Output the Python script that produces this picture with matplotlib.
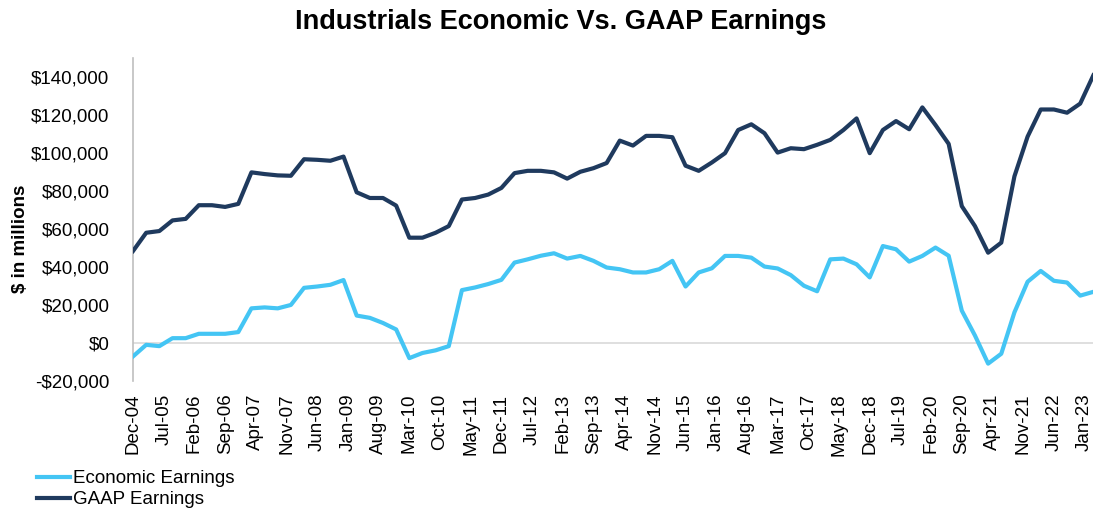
import matplotlib
matplotlib.use("Agg")
import matplotlib.pyplot as plt
import pandas as pd
from matplotlib.ticker import FuncFormatter

plt.rcParams['font.family'] = ['Liberation Sans', 'DejaVu Sans']

# Quarterly observation dates (Dec-04 .. Mar-23)
dates = pd.date_range('2004-12-31', '2023-03-31', freq='QE')

gaap = [48.5, 58.1, 59.0, 64.6, 65.4, 72.6, 72.6, 71.7, 73.3, 89.9,
        89.0, 88.3, 88.1, 96.8, 96.5, 96.0, 98.2, 79.4, 76.4, 76.4, 72.4,
        55.5, 55.5, 58.1, 61.6, 75.6, 76.4, 78.2, 81.7, 89.5, 90.7, 90.7,
        89.9, 86.6, 90.2, 92.1, 94.8, 106.6, 104.0, 109.1, 109.1, 108.4,
        93.4, 90.7, 95.1, 100.0, 112.2, 115.2, 110.5, 100.3, 102.6, 102.1, 104.4,
        107.0, 112.2, 118.3, 100.0, 112.2, 116.9, 112.6, 124.1, 114.8, 104.9,
        72.1, 61.6, 47.6, 52.9, 87.8, 108.7, 123.0, 123.0, 121.3, 126.1, 141.0]

economic = [-7.0, -0.9, -1.6, 2.6, 2.6, 4.9, 4.9, 4.9, 5.8, 18.3,
            18.8, 18.3, 20.1, 29.1, 29.8, 30.7, 33.2, 14.5, 13.3, 10.6, 7.2,
            -7.9, -5.2, -3.8, -1.6, 27.9, 29.3, 31.1, 33.3, 42.4, 44.1, 46.0,
            47.3, 44.5, 45.9, 43.3, 39.8, 38.9, 37.2, 37.2, 38.9, 43.3,
            29.8, 37.2, 39.4, 45.9, 45.9, 45.0, 40.3, 39.3, 35.8, 30.2, 27.3,
            44.1, 44.5, 41.5, 34.6, 51.1, 49.4, 42.9, 45.9, 50.3, 46.0,
            17.1, 4.0, -10.8, -5.6, 16.2, 32.3, 38.0, 32.8, 31.9, 25.0, 27.0]

tick_labels = ['Dec-04', 'Jul-05', 'Feb-06', 'Sep-06', 'Apr-07', 'Nov-07', 'Jun-08',
               'Jan-09', 'Aug-09', 'Mar-10', 'Oct-10', 'May-11', 'Dec-11', 'Jul-12',
               'Feb-13', 'Sep-13', 'Apr-14', 'Nov-14', 'Jun-15', 'Jan-16', 'Aug-16',
               'Mar-17', 'Oct-17', 'May-18', 'Dec-18', 'Jul-19', 'Feb-20', 'Sep-20',
               'Apr-21', 'Nov-21', 'Jun-22', 'Jan-23']

# month index relative to Dec-04
x = [(d.year - 2004) * 12 + d.month - 12 for d in dates]
tick_dates = pd.to_datetime(tick_labels, format='%b-%y')
tick_x = [(d.year - 2004) * 12 + d.month - 12 for d in tick_dates]

econ_vals = [v * 1000 for v in economic]
gaap_vals = [v * 1000 for v in gaap]

FS = 13.5

fig = plt.figure(figsize=(10.95, 5.15), dpi=100)
ax = fig.add_axes([0.1215, 0.260, 0.877, 0.627])

c_econ = '#44C5F4'
c_gaap = '#1F3A5E'
ax.axhline(0, color='#D9D9D9', lw=1.2, zorder=1)
ax.plot(x, econ_vals, color=c_econ, lw=3.0, label='Economic Earnings', zorder=3,
        solid_joinstyle='round')
ax.plot(x, gaap_vals, color=c_gaap, lw=3.0, label='GAAP Earnings', zorder=3,
        solid_joinstyle='round')

ax.set_xlim(x[0], x[-1])
ax.set_ylim(-20000, 150000)
ax.set_yticks(range(-20000, 140001, 20000))
ax.yaxis.set_major_formatter(FuncFormatter(
    lambda v, p: ('-$' if v < 0 else '$') + f'{abs(int(v)):,}'))
ax.set_xticks(tick_x)
ax.set_xticklabels(tick_labels, rotation=90)
ax.tick_params(axis='both', length=0, labelsize=FS)
ax.tick_params(axis='x', pad=9)
ax.tick_params(axis='y', pad=17)

for s in ['top', 'right', 'bottom']:
    ax.spines[s].set_visible(False)
ax.spines['left'].set_color('#BFBFBF')
ax.spines['left'].set_linewidth(1.2)

ax.set_ylabel('$ in millions', fontsize=FS, fontweight='bold')
ax.yaxis.set_label_coords(-0.108, 0.44)

fig.suptitle('Industrials Economic Vs. GAAP Earnings', fontsize=19.5,
             fontweight='bold', x=0.512, y=0.982)

fig.legend(loc='upper left', bbox_to_anchor=(0.034, 0.087), frameon=False,
           fontsize=FS, handlelength=1.75, handletextpad=0.15, labelspacing=0.2,
           borderaxespad=0, borderpad=0)

fig.savefig('out.png', dpi=100)
